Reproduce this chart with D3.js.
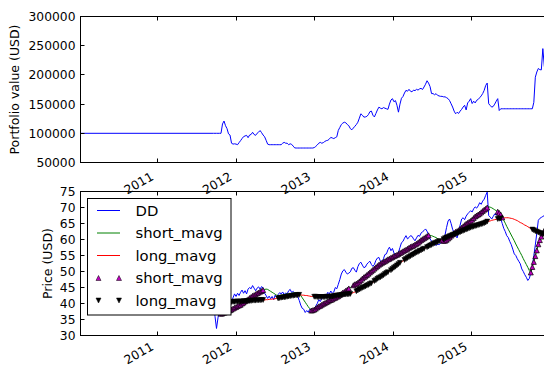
<!DOCTYPE html>
<html>
<head>
<meta charset="utf-8">
<script src="https://cdn.jsdelivr.net/npm/d3@7"></script>
<style>
  body { margin: 0; background: #fff; }
  svg { display: block; }
  text { font-family: "DejaVu Sans", sans-serif; fill: #000; }
</style>
</head>
<body>
<svg id="chart" width="544" height="365"></svg>
<script>
// ---- data -------------------------------------------------------------
// Weekly samples starting on this Monday; index i is week i.
const weekStart = "2011-09-19";
const firstDate = "2010-01-08";
const lastDate = "2015-12-31";
const startingCapital = 100000;

const portfolio = [
  100000,100000,100000,100000,100000,100000,116000,121000,113000,108000,
  99000,97000,83000,81500,82000,81500,80500,84000,87400,91000,
  94300,95500,96500,92500,97000,98000,101700,98000,96500,100000,
  102000,104700,101000,97000,94000,88000,81500,80500,80500,80500,
  80500,80500,80500,80500,80500,80500,83000,84500,83000,83000,
  80500,82000,81000,78000,75000,74800,74800,74800,74800,74800,
  74800,74800,74800,74800,74800,74800,74800,75500,77500,80000,
  83000,84500,83000,84000,86000,87400,88000,90000,93000,92000,
  91000,92500,94000,105000,110000,115000,117500,119000,118000,115000,
  113000,108000,106000,109000,112000,115000,119000,126000,133400,131000,
  127700,128000,129000,132000,137000,138000,131000,128000,134000,140000,
  144800,143000,142000,144000,143000,142000,141000,150000,157000,159300,
  154000,156000,148000,136200,150000,160000,163000,169000,173600,172000,
  175300,172000,171000,174000,173000,175300,174000,176000,177000,175000,
  179300,184000,190000,186000,180000,168000,168000,166000,167900,165000,
  164000,163300,163300,162400,162400,161000,159300,156000,150600,145000,
  138000,133400,136000,134000,138000,141000,145000,148000,140000,152000,
  155000,159300,151000,155000,152000,156500,158000,161000,164000,168000,
  173600,182000,186000,150600,147700,144800,146000,150000,155000,159300,
  139000,142000,142000,142000,142000,142000,142000,142000,142000,142000,
  142000,142000,142000,142000,142000,142000,142000,142000,142000,142000,
  142000,142000,142000,153000,196000,205000,211000,209000,208600,245000,
  214000,215000,218000
];

const price = [
  40.5,36,32.2,35.5,38.5,40,39.5,40.5,39.8,40.8,
  40.2,41,40.5,41.8,43,42.2,43.2,42.5,43.5,44.2,
  43.2,44,43,44.5,45,44.6,45.6,44.8,44,44.8,
  45.2,44.5,45.3,44.8,43.2,42.5,41.6,42.3,41.5,42.2,
  41.2,42.6,42,42.8,43.4,43,43.6,42.8,43.3,43,
  44,44.4,43.4,43.8,43.2,42.6,42.2,41,39.5,38.5,
  38.2,37.2,37.8,37.3,38.2,37.5,38,37.6,39.2,40,
  41.2,40.6,41.5,42.3,41.8,42.5,43.5,43,43.9,43.2,
  43.6,45,44.6,46,47.5,49.2,50.2,50.6,49.8,49.2,
  49.5,49.9,51,51.2,50.4,49.8,51.5,52.5,52.9,52,
  51.2,51.4,52.3,52.8,53.2,52.2,51.6,52.2,53.5,54.2,
  54.4,53.2,52.8,54,55.3,55.5,56.8,57.6,56.5,57.2,
  55.8,55,54.4,56,57.5,59,59.4,60.4,61.2,60.2,
  60.6,61.2,61,60.2,59.6,60.5,61.3,61,62,62.4,
  62.8,63.3,62.6,61.5,60.2,59.5,58.6,59,58.1,58.6,
  58.4,58.8,59.2,59.8,61.5,63.8,65.8,66.4,65,63.2,
  62,61.2,60.5,62.5,64.5,66.4,66.8,66.2,67.3,68,
  68.5,69,68.6,69.6,70.2,69.8,70.5,71.5,71,72,
  72.6,73.8,74.8,67.5,67,66.4,67.2,68,67.6,69,
  68.6,66.5,65,63.5,62.5,61.2,60.6,59.4,58.4,57,
  55.5,55,54,53.2,52.4,50.8,50,49,48.2,47.2,
  47.8,49.5,51.5,55,58.3,62,66,66.6,66.9,67.2,
  67.5,67.8,68
];

const shortMavg = [
  40.5,39.8,38.6,37.6,37.0,36.8,36.9,37.1,37.3,37.5,
  37.7,37.9,38.1,38.4,38.7,38.9,39.2,39.4,39.6,40.0,
  40.3,40.7,41.0,41.3,41.7,42.0,42.4,42.6,42.9,43.2,
  43.4,43.7,43.9,44.2,44.4,44.5,44.4,44.1,43.8,43.5,
  43.2,42.9,42.6,42.5,42.5,42.6,42.7,42.8,42.9,43.0,
  43.0,43.1,43.2,43.3,43.3,43.4,43.4,43.2,42.5,41.8,
  41.1,40.4,39.7,39.0,38.4,37.8,37.9,38.1,38.4,38.8,
  39.1,39.3,39.6,39.9,40.1,40.4,40.6,40.9,41.1,41.3,
  41.6,41.8,42.1,42.3,42.7,43.0,43.4,43.6,44.0,44.3,
  44.7,45.0,45.3,45.7,46.0,46.2,46.5,46.9,47.3,47.8,
  48.2,48.5,48.9,49.3,49.7,50.1,50.5,50.9,51.3,51.7,
  52.1,52.4,52.7,53.0,53.2,53.5,53.8,54.0,54.3,54.5,
  54.8,55.0,55.2,55.5,55.8,56.0,56.3,56.6,56.8,57.1,
  57.4,57.7,57.9,58.1,58.4,58.7,59.0,59.4,59.8,60.1,
  60.4,60.7,61.0,61.3,61.3,61.2,61.0,60.8,60.6,60.3,
  60.0,59.8,59.7,59.6,59.6,59.9,60.3,60.7,61.2,61.6,
  62.0,62.4,62.6,62.9,63.3,63.7,64.1,64.5,64.9,65.2,
  65.5,65.8,66.2,66.7,67.2,67.5,67.8,68.1,68.5,68.9,
  69.3,69.6,70.0,70.2,70.1,69.9,69.6,69.3,69.0,68.7,
  68.3,67.8,66.9,66.0,65.1,64.1,63.2,62.3,61.4,60.5,
  59.6,58.6,57.7,56.8,55.9,55.0,54.0,53.1,52.2,51.3,
  50.3,49.7,51.4,53.0,54.8,56.6,58.5,59.8,60.9,61.9,
  62.8,63.6,64.3
];

const longMavg = [
  40.8,40.7,40.6,40.5,40.4,40.4,40.4,40.4,40.4,40.4,
  40.4,40.5,40.5,40.5,40.5,40.6,40.6,40.6,40.6,40.6,
  40.7,40.7,40.7,40.8,40.8,40.8,40.9,40.9,40.9,41.0,
  41.0,41.0,41.1,41.1,41.1,41.2,41.2,41.3,41.3,41.4,
  41.4,41.5,41.6,41.6,41.7,41.8,41.9,41.9,42.0,42.1,
  42.2,42.3,42.4,42.4,42.5,42.6,42.6,42.7,42.7,42.6,
  42.6,42.5,42.5,42.4,42.3,42.2,42.2,42.1,42.1,42.0,
  42.0,42.0,42.0,42.0,42.0,42.1,42.1,42.1,42.1,42.2,
  42.3,42.4,42.5,42.5,42.6,42.6,42.7,42.8,42.8,42.9,
  42.9,43.0,43.2,43.4,43.6,43.8,44.1,44.4,44.6,44.9,
  45.1,45.3,45.6,45.8,46.1,46.3,46.6,47.0,47.3,47.7,
  48.0,48.2,48.5,48.8,49.2,49.5,49.8,50.1,50.4,50.8,
  51.2,51.5,51.9,52.3,52.7,53.0,53.3,53.6,53.9,54.2,
  54.5,54.8,55.1,55.3,55.6,55.9,56.1,56.4,56.6,56.9,
  57.1,57.3,57.6,57.8,58.1,58.3,58.6,58.8,59.0,59.2,
  59.5,59.7,59.9,60.1,60.4,60.6,60.8,61.0,61.2,61.4,
  61.6,61.7,61.9,62.1,62.3,62.5,62.7,62.9,63.1,63.3,
  63.5,63.7,63.9,64.0,64.2,64.3,64.5,64.6,64.8,64.9,
  65.1,65.3,65.6,65.7,65.8,66.0,66.1,66.2,66.3,66.4,
  66.5,66.6,66.7,66.7,66.8,66.8,66.8,66.7,66.6,66.5,
  66.3,66.1,65.9,65.6,65.3,65.1,64.8,64.5,64.3,64.0,
  63.7,63.4,63.1,62.9,62.6,62.4,62.2,62.0,61.9,61.7,
  61.6,61.5,61.4
];

// Trade periods as inclusive week-index spans.
const buySpans  = [[5,33],[65,90],[93,143],[152,182],[189,192],[211,222]];
const sellSpans = [[5,33],[43,57],[67,91],[95,105],[107,116],[118,124],
                   [127,140],[142,150],[153,182],[189,191],[212,222]];

const yearTicks = [2011, 2012, 2013, 2014, 2015];
const portfolioTicks = [50000, 100000, 150000, 200000, 250000, 300000];
const priceTicks = [30, 35, 40, 45, 50, 55, 60, 65, 70, 75];

const seriesNames = ["DD", "short_mavg", "long_mavg"];
const colors = { price: "#0000ff", short: "#008000", long: "#ff0000", buy: "#bf00bf", sell: "#000000" };

// ---- setup ------------------------------------------------------------
const parse = d3.timeParse("%Y-%m-%d");
const week0 = parse(weekStart);
const weeks = price.map((_, i) => d3.timeWeek.offset(week0, i));

const svg = d3.select("#chart");
svg.append("rect").attr("width", 544).attr("height", 365).attr("fill", "#fff");

const left = 80.5, right = 549.5;
const x = d3.scaleTime().domain([parse(firstDate), parse(lastDate)]).range([left, right]);

const panels = {
  top: { y0: 16.5, y1: 162.5, labelGap: 16.5 },
  bot: { y0: 191.5, y1: 335.5, labelGap: 13.5 }
};
const yTop = d3.scaleLinear().domain([50000, 300000]).range([panels.top.y1, panels.top.y0]);
const yBot = d3.scaleLinear().domain([30, 75]).range([panels.bot.y1, panels.bot.y0]);

const defs = svg.append("defs");
function clip(id, p) {
  defs.append("clipPath").attr("id", id).append("rect")
    .attr("x", left).attr("y", p.y0).attr("width", right - left).attr("height", p.y1 - p.y0);
  return `url(#${id})`;
}

function frame(p, yScale, ticks, fmt, label, labelX) {
  const g = svg.append("g");
  // inward ticks on all sides
  const yearDates = yearTicks.map(yy => new Date(yy, 0, 1));
  yearDates.forEach(d => {
    const xx = Math.round(x(d)) + 0.5;
    g.append("line").attr("x1", xx).attr("x2", xx).attr("y1", p.y1).attr("y2", p.y1 - 4).attr("stroke", "#000");
    g.append("line").attr("x1", xx).attr("x2", xx).attr("y1", p.y0).attr("y2", p.y0 + 4).attr("stroke", "#000");
    g.append("text")
      .attr("transform", `translate(${x(d) - 3},${p.y1 + p.labelGap}) rotate(-30)`)
      .attr("text-anchor", "end").attr("font-size", 12.3)
      .text(d3.timeFormat("%Y")(d));
  });
  ticks.forEach(v => {
    const yy = Math.round(yScale(v) - 0.5) + 0.5;
    g.append("line").attr("x1", left).attr("x2", left + 4).attr("y1", yy).attr("y2", yy).attr("stroke", "#000");
    g.append("line").attr("x1", right).attr("x2", right - 4).attr("y1", yy).attr("y2", yy).attr("stroke", "#000");
    g.append("text").attr("x", 75.5).attr("y", yScale(v)).attr("dy", "0.36em")
      .attr("text-anchor", "end").attr("font-size", 12.3).text(fmt(v));
  });
  g.append("rect").attr("x", left).attr("y", p.y0).attr("width", right - left).attr("height", p.y1 - p.y0)
    .attr("fill", "none").attr("stroke", "#000").attr("stroke-width", 1);
  g.append("text")
    .attr("transform", `translate(${labelX},${(p.y0 + p.y1) / 2}) rotate(-90)`)
    .attr("text-anchor", "middle").attr("font-size", 12.5).text(label);
}

// ---- portfolio panel --------------------------------------------------
const portfolioPoints = [[parse(firstDate), startingCapital]].concat(weeks.map((d, i) => [d, portfolio[i]]));
svg.append("path")
  .attr("clip-path", clip("clipTop", panels.top))
  .attr("d", d3.line().x(d => x(d[0])).y(d => yTop(d[1]))(portfolioPoints))
  .attr("fill", "none").attr("stroke", colors.price).attr("stroke-width", 1);
frame(panels.top, yTop, portfolioTicks, d3.format("d"), "Portfolio value (USD)", 19);

// ---- price panel ------------------------------------------------------
const gBot = svg.append("g").attr("clip-path", clip("clipBot", panels.bot));
const lineOf = arr => d3.line().x((d, i) => x(weeks[i])).y(d => yBot(d))(arr);
gBot.append("path").attr("d", lineOf(price)).attr("fill", "none").attr("stroke", colors.price).attr("stroke-width", 1);
gBot.append("path").attr("d", lineOf(shortMavg)).attr("fill", "none").attr("stroke", colors.short).attr("stroke-width", 1);
gBot.append("path").attr("d", lineOf(longMavg)).attr("fill", "none").attr("stroke", colors.long).attr("stroke-width", 1);

const up = "M0,-2.5L2.5,2.5L-2.5,2.5Z";
const down = "M0,2.5L2.5,-2.5L-2.5,-2.5Z";
function spanIndices(spans) {
  const out = [];
  spans.forEach(([a, b]) => { for (let i = a; i <= b; i++) out.push(i); });
  return out;
}
gBot.selectAll("path.buy").data(spanIndices(buySpans)).join("path").attr("class", "buy")
  .attr("d", up).attr("transform", i => `translate(${x(weeks[i])},${yBot(shortMavg[i])})`)
  .attr("fill", colors.buy).attr("stroke", "#000").attr("stroke-width", 0.7);
gBot.selectAll("path.sell").data(spanIndices(sellSpans)).join("path").attr("class", "sell")
  .attr("d", down).attr("transform", i => `translate(${x(weeks[i])},${yBot(longMavg[i])})`)
  .attr("fill", colors.sell).attr("stroke", "#000").attr("stroke-width", 0.5);

frame(panels.bot, yBot, priceTicks, d3.format("d"), "Price (USD)", 51.5);

// ---- legend -----------------------------------------------------------
const lg = svg.append("g");
lg.append("rect").attr("x", 87.5).attr("y", 198.5).attr("width", 143.5).attr("height", 116.5)
  .attr("fill", "#fff").attr("stroke", "#000").attr("stroke-width", 1);
const rows = [210.5, 233, 255.5, 278, 300.5];
const entries = [
  { name: seriesNames[0], kind: "line", color: colors.price },
  { name: seriesNames[1], kind: "line", color: colors.short },
  { name: seriesNames[2], kind: "line", color: colors.long },
  { name: seriesNames[1], kind: "up", color: colors.buy },
  { name: seriesNames[2], kind: "down", color: colors.sell }
];
entries.forEach((e, k) => {
  const yy = rows[k];
  if (e.kind === "line") {
    lg.append("line").attr("x1", 97).attr("x2", 120).attr("y1", yy).attr("y2", yy)
      .attr("stroke", e.color).attr("stroke-width", 1);
  } else {
    [98.5, 119].forEach(xx => lg.append("path").attr("d", e.kind === "up" ? up : down)
      .attr("transform", `translate(${xx},${yy})`).attr("fill", e.color)
      .attr("stroke", "#000").attr("stroke-width", 0.5));
  }
  lg.append("text").attr("x", 135.5).attr("y", yy).attr("dy", "0.36em")
    .attr("font-size", 14.8).text(e.name);
});
</script>
</body>
</html>
